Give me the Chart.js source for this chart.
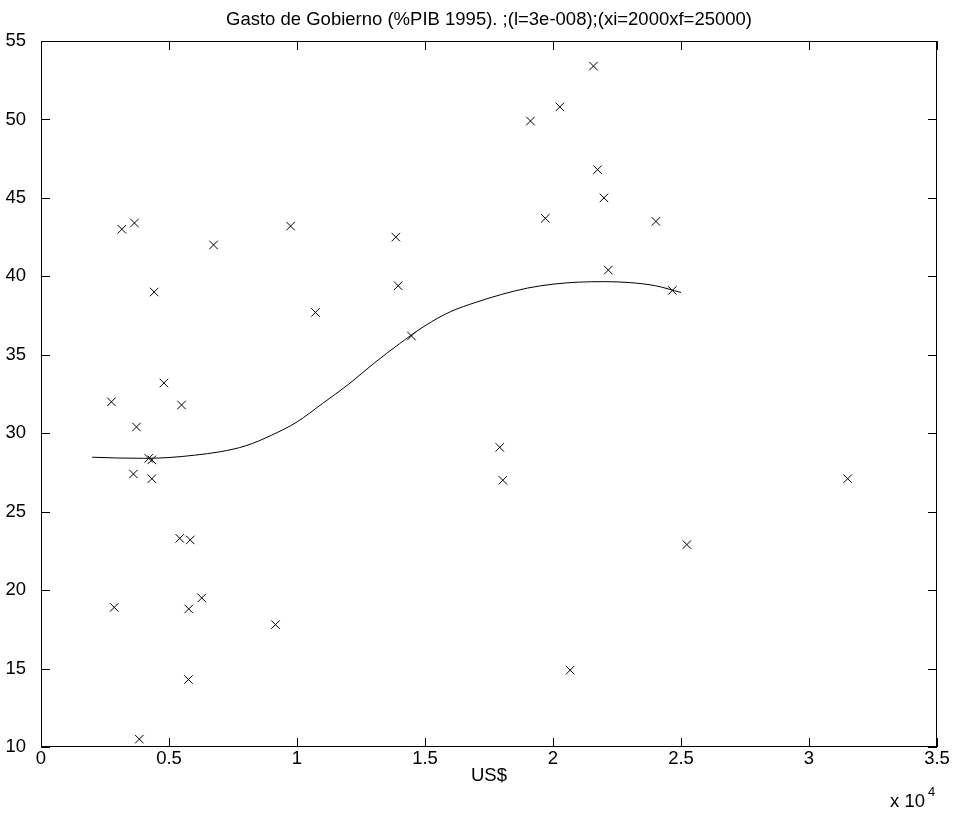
<!DOCTYPE html>
<html>
<head>
<meta charset="utf-8">
<title>Gasto de Gobierno</title>
<script src="https://cdn.jsdelivr.net/npm/chart.js@4.4.0/dist/chart.umd.min.js"></script>
<style>
  html, body { margin: 0; padding: 0; background: #fff; }
  #wrap { width: 957px; height: 816px; }
</style>
</head>
<body>
<div id="wrap"><canvas id="chart" width="957" height="816"></canvas></div>
<script>
const titulo = 'Gasto de Gobierno (%PIB 1995). ;(l=3e-008);(xi=2000xf=25000)';
const etiquetaX = 'US$';
const FUENTE = "'Liberation Sans', Arial, Helvetica, sans-serif";

// income per capita (US$) and government spending (% of GDP) per country
const ingreso = [3160, 3650, 6740, 9750, 4420, 10720, 4800, 2750, 5490, 3730,
  4210, 4330, 3610, 4330, 2860, 5420, 5830, 6280, 5770, 9160,
  5760, 3840, 21580, 20270, 19120, 21740, 21990, 19700, 24020, 22160,
  24660, 13860, 13950, 14470, 17920, 18040, 25230, 20670, 31510];
const gasto = [43.0, 43.4, 42.0, 43.2, 39.0, 37.7, 33.2, 32.0, 31.8, 30.4,
  28.4, 28.3, 27.4, 27.1, 18.9, 23.3, 23.2, 19.5, 18.8, 17.8,
  14.3, 10.5, 53.4, 50.8, 49.9, 46.8, 45.0, 43.7, 43.5, 40.4,
  39.1, 42.5, 39.4, 36.2, 29.1, 27.0, 22.9, 14.9, 27.1];

// smoothed fit evaluated between xi=2000 and xf=25000
const ajusteX = [2000, 3000, 4000, 5000, 6000, 7000, 8000, 9000, 10000, 11000, 12000, 13000,
  14000, 15000, 16000, 17000, 18000, 19000, 20000, 21000, 22000, 23000, 24000, 25000];
const ajusteY = [28.47, 28.42, 28.40, 28.45, 28.60, 28.82, 29.20, 29.87, 30.72, 31.90, 33.10, 34.45,
  35.70, 36.85, 37.75, 38.35, 38.85, 39.25, 39.50, 39.63, 39.66, 39.60, 39.40, 38.97];

// tick values
const ticksX = [0, 5000, 10000, 15000, 20000, 25000, 30000, 35000];
const ticksY = [10, 15, 20, 25, 30, 35, 40, 45, 50, 55];

const puntos = ingreso.map((v, i) => ({ x: v, y: gasto[i] }));
const ajuste = ajusteX.map((v, i) => ({ x: v, y: ajusteY[i] }));

// box around the axes, inward ticks on all four sides, title and labels
const marco = {
  id: 'marco',
  afterDraw(chart) {
    const { ctx, chartArea: a, scales: { x, y } } = chart;
    const L = 9;
    ctx.save();
    ctx.strokeStyle = '#000';
    ctx.lineWidth = 1;
    ctx.strokeRect(a.left + 0.5, a.top + 0.5, a.right - a.left - 1, a.bottom - a.top - 1);
    ctx.beginPath();
    ticksX.forEach(v => {
      const px = Math.round(x.getPixelForValue(v)) + 0.5;
      ctx.moveTo(px, a.bottom); ctx.lineTo(px, a.bottom - L);
      ctx.moveTo(px, a.top); ctx.lineTo(px, a.top + L);
    });
    ticksY.forEach(v => {
      const py = Math.round(y.getPixelForValue(v)) + 0.5;
      ctx.moveTo(a.left, py); ctx.lineTo(a.left + L, py);
      ctx.moveTo(a.right, py); ctx.lineTo(a.right - L, py);
    });
    ctx.stroke();

    const cx = (a.left + a.right) / 2;
    ctx.fillStyle = '#000';
    ctx.textAlign = 'center';
    ctx.textBaseline = 'middle';
    ctx.font = '18.5px ' + FUENTE;
    ctx.fillText(titulo, cx, 20);
    ctx.fillText(etiquetaX, cx, 776);
    ctx.textAlign = 'left';
    ctx.fillText('x 10', 890, 802);
    ctx.font = '13px ' + FUENTE;
    ctx.fillText('4', 928, 792);
    ctx.restore();
  }
};

new Chart(document.getElementById('chart'), {
  type: 'scatter',
  data: {
    datasets: [
      {
        type: 'line',
        data: ajuste,
        borderColor: '#000',
        borderWidth: 1,
        pointRadius: 0,
        cubicInterpolationMode: 'monotone',
        fill: false
      },
      {
        data: puntos,
        pointStyle: 'crossRot',
        pointRadius: 6,
        borderColor: '#000',
        backgroundColor: '#000',
        borderWidth: 1
      }
    ]
  },
  options: {
    responsive: false,
    animation: false,
    layout: { padding: { top: 41, right: 20, left: 0, bottom: 0 } },
    plugins: { legend: { display: false }, tooltip: { enabled: false } },
    scales: {
      x: {
        type: 'linear',
        min: 0,
        max: 35000,
        afterBuildTicks: s => { s.ticks = ticksX.map(v => ({ value: v })); },
        afterFit: s => { s.height = 69; },
        ticks: {
          callback: v => String(v / 10000),
          color: '#000',
          font: { family: FUENTE, size: 18.5 },
          maxRotation: 0,
          padding: -7
        },
        grid: { display: false },
        border: { display: false }
      },
      y: {
        min: 10,
        max: 55,
        afterBuildTicks: s => { s.ticks = ticksY.map(v => ({ value: v })); },
        afterFit: s => { s.width = 41; },
        ticks: {
          color: '#000',
          font: { family: FUENTE, size: 18.5 },
          padding: 7
        },
        grid: { display: false },
        border: { display: false }
      }
    }
  },
  plugins: [marco]
});
</script>
</body>
</html>
